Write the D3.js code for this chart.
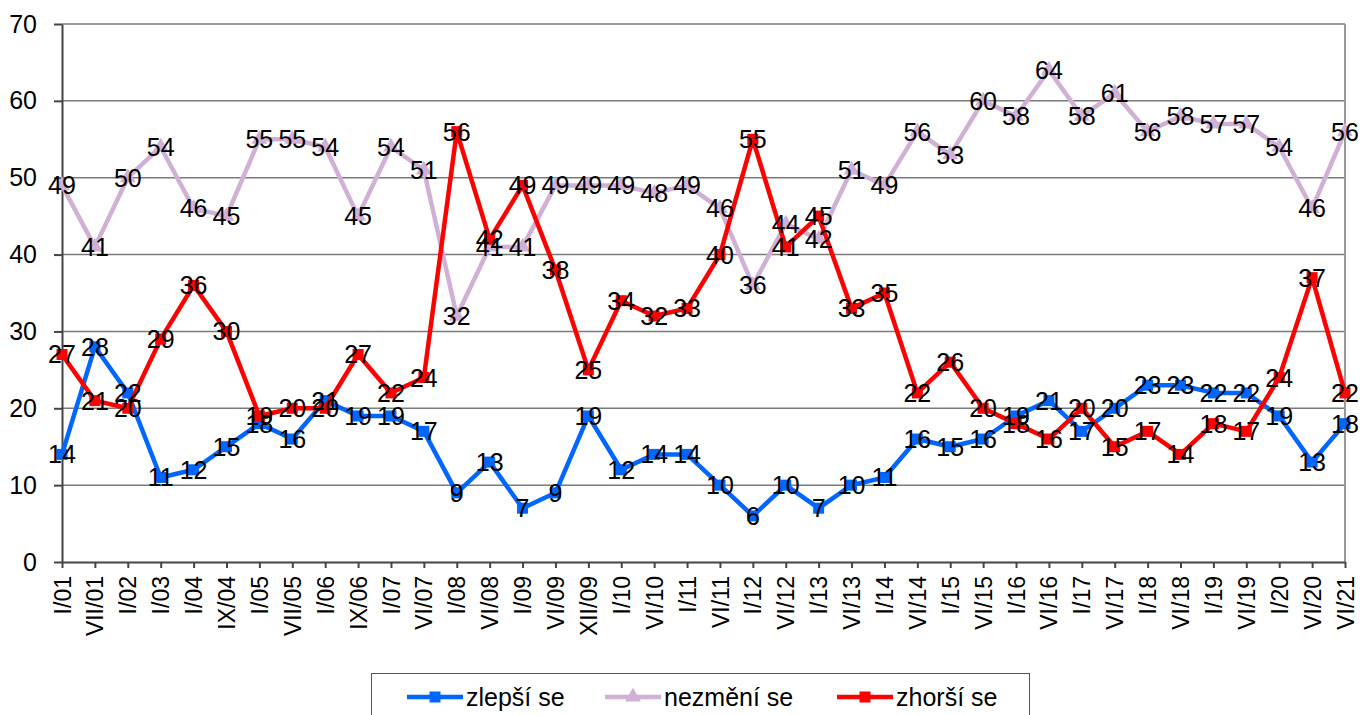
<!DOCTYPE html>
<html>
<head>
<meta charset="utf-8">
<script src="https://cdn.jsdelivr.net/npm/d3@7"></script>
<style>
  body { margin: 0; background: #fff; }
  svg { font-family: "Liberation Sans", Arial, sans-serif; }
</style>
</head>
<body>
<svg id="chart" width="1360" height="715"></svg>
<script>
var categories = ["I/01", "VII/01", "I/02", "I/03", "I/04", "IX/04", "I/05", "VII/05", "I/06", "IX/06",
    "I/07", "VI/07", "I/08", "VI/08", "I/09", "VI/09", "XII/09", "I/10", "VI/10", "I/11",
    "VI/11", "I/12", "VI/12", "I/13", "VI/13", "I/14", "VI/14", "I/15", "VI/15", "I/16",
    "VI/16", "I/17", "VI/17", "I/18", "VI/18", "I/19", "VI/19", "I/20", "VI/20", "VI/21"];

var zlepsi = [14, 28, 22, 11, 12, 15, 18, 16, 21, 19, 19, 17, 9, 13, 7, 9, 19, 12, 14, 14,
    10, 6, 10, 7, 10, 11, 16, 15, 16, 19, 21, 17, 20, 23, 23, 22, 22, 19, 13, 18];
var nezmeni = [49, 41, 50, 54, 46, 45, 55, 55, 54, 45, 54, 51, 32, 41, 41, 49, 49, 49, 48, 49,
    46, 36, 44, 42, 51, 49, 56, 53, 60, 58, 64, 58, 61, 56, 58, 57, 57, 54, 46, 56];
var zhorsi = [27, 21, 20, 29, 36, 30, 19, 20, 20, 27, 22, 24, 56, 42, 49, 38, 25, 34, 32, 33,
    40, 55, 41, 45, 33, 35, 22, 26, 20, 18, 16, 20, 15, 17, 14, 18, 17, 24, 37, 22];

var yTicks = [0, 10, 20, 30, 40, 50, 60, 70];

var series = [
    { name: "zlepší se", values: zlepsi, color: "#0066FF", marker: "square" },
    { name: "nezmění se", values: nezmeni, color: "#D0B0D4", marker: "triangle" },
    { name: "zhorší se", values: zhorsi, color: "#FF0000", marker: "square" }
];

var svg = d3.select("#chart");
var plotLeft = 62, plotRight = 1345, plotTop = 24, plotBottom = 562;

var x = d3.scalePoint().domain(categories).range([plotLeft, plotRight]);
var y = d3.scaleLinear().domain([0, 70]).range([plotBottom, plotTop]);

// grid lines
svg.append("g").selectAll("line")
    .data(yTicks.filter(function(d) { return d > 0; }))
    .enter().append("line")
    .attr("x1", plotLeft).attr("x2", plotRight)
    .attr("y1", function(d) { return y(d); })
    .attr("y2", function(d) { return y(d); })
    .attr("stroke", "#7a7a7a")
    .attr("stroke-width", 1.5);

// right frame
svg.append("line")
    .attr("x1", plotRight).attr("x2", plotRight).attr("y1", plotTop).attr("y2", plotBottom)
    .attr("stroke", "#999").attr("stroke-width", 2);

// y axis
var yAxis = svg.append("g")
    .attr("transform", "translate(" + plotLeft + ",0)")
    .call(d3.axisLeft(y).tickValues(yTicks).tickSize(8).tickSizeOuter(0).tickPadding(17));
yAxis.selectAll("path, line").attr("stroke", "#444").attr("stroke-width", 2);
yAxis.selectAll("text").attr("font-size", 25).attr("fill", "#000")
    .style("font-family", "Liberation Sans, Arial, sans-serif");

// x axis
var xAxis = svg.append("g")
    .attr("transform", "translate(0," + plotBottom + ")")
    .call(d3.axisBottom(x).tickSize(6).tickSizeOuter(0));
xAxis.selectAll("path, line").attr("stroke", "#444").attr("stroke-width", 2);
xAxis.selectAll("text")
    .attr("font-size", 23).attr("fill", "#000")
    .style("font-family", "Liberation Sans, Arial, sans-serif")
    .attr("transform", "rotate(-90)")
    .attr("text-anchor", "end")
    .attr("x", -14).attr("y", 0).attr("dy", "0.35em");

// lines
var line = d3.line()
    .x(function(d, i) { return x(categories[i]); })
    .y(function(d) { return y(d); });

function drawMarker(g, type, color, size) {
    if (type === "square") {
        g.append("rect").attr("x", -size / 2).attr("y", -size / 2)
            .attr("width", size).attr("height", size).attr("fill", color);
    } else {
        g.append("path").attr("d", d3.symbol().type(d3.symbolTriangle).size(size * size * 0.9)())
            .attr("fill", color);
    }
}

series.forEach(function(s) {
    svg.append("path")
        .datum(s.values)
        .attr("d", line)
        .attr("fill", "none")
        .attr("stroke", s.color)
        .attr("stroke-width", 4.5)
        .attr("stroke-linejoin", "round");

    svg.append("g").selectAll("g")
        .data(s.values)
        .enter().append("g")
        .attr("transform", function(d, i) { return "translate(" + x(categories[i]) + "," + y(d) + ")"; })
        .each(function() { drawMarker(d3.select(this), s.marker, s.color, 11); });
});

// data labels
series.forEach(function(s) {
    svg.append("g").selectAll("text")
        .data(s.values)
        .enter().append("text")
        .attr("x", function(d, i) { return x(categories[i]); })
        .attr("y", function(d) { return y(d); })
        .attr("dy", "0.36em")
        .attr("text-anchor", "middle")
        .attr("font-size", 25)
        .attr("fill", "#000")
        .text(function(d) { return d; });
});

// legend
var legendX = [407, 605, 837];
svg.append("rect")
    .attr("x", 371.5).attr("y", 673.5).attr("width", 658).attr("height", 60)
    .attr("fill", "#fff").attr("stroke", "#555").attr("stroke-width", 1);

var leg = svg.append("g").selectAll("g")
    .data(series)
    .enter().append("g")
    .attr("transform", function(d, i) { return "translate(" + legendX[i] + ",697)"; });

leg.append("line")
    .attr("x1", 0).attr("x2", 56).attr("y1", 0).attr("y2", 0)
    .attr("stroke", function(d) { return d.color; })
    .attr("stroke-width", 4.5);
leg.append("g")
    .attr("transform", "translate(28,0)")
    .each(function(d) { drawMarker(d3.select(this), d.marker, d.color, 11); });
leg.append("text")
    .attr("x", 59).attr("y", 0).attr("dy", "0.36em")
    .attr("font-size", 25).attr("fill", "#000")
    .text(function(d) { return d.name; });
</script>
</body>
</html>
